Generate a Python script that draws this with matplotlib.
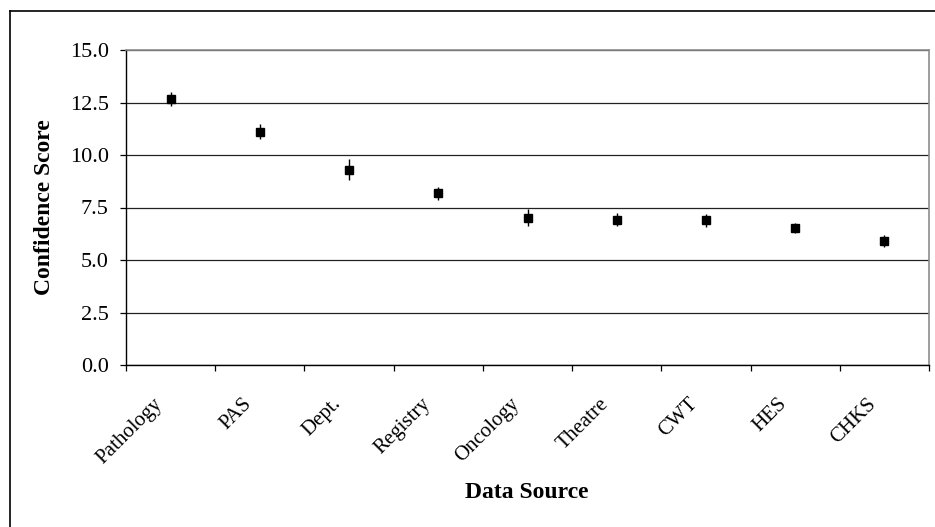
import matplotlib
matplotlib.use("Agg")
import matplotlib.pyplot as plt
from matplotlib.lines import Line2D
import matplotlib.transforms as mtransforms
import numpy as np

categories = ["Pathology", "PAS", "Dept.", "Registry", "Oncology", "Theatre", "CWT", "HES", "CHKS"]
scores = [12.67, 11.11, 9.29, 8.17, 7.02, 6.92, 6.89, 6.51, 5.92]
errors = [0.32, 0.36, 0.50, 0.32, 0.40, 0.32, 0.32, 0.24, 0.28]
yticks = [0.0, 2.5, 5.0, 7.5, 10.0, 12.5, 15.0]

plt.rcParams['font.family'] = ['Liberation Serif', 'DejaVu Serif']

W, H = 935, 527
fig = plt.figure(figsize=(W / 100, H / 100), dpi=100)
fx0, fy0 = 10 / W, 1 - 11 / H
fig.lines.append(Line2D([fx0, fx0], [0, fy0], transform=fig.transFigure, color='black', linewidth=1.2))
fig.lines.append(Line2D([fx0, 1], [fy0, fy0], transform=fig.transFigure, color='black', linewidth=1.2))

left, right, top, bottom = 126, 929, 50, 365
ax = fig.add_axes([left / W, 1 - bottom / H, (right - left) / W, (bottom - top) / H])

x = np.arange(len(categories))
ax.errorbar(x, scores, yerr=errors, fmt='s', color='black', markersize=5.5,
            elinewidth=1.0, capsize=0, zorder=3)

ax.set_xlim(-0.5, len(categories) - 0.5)
ax.set_ylim(0, 15)
ax.set_yticks(yticks)
ax.set_yticklabels([f"{v:.1f}" for v in yticks], fontsize=16)
ax.yaxis.grid(True, color='#222222', linewidth=0.9)
ax.set_axisbelow(True)

# category boundaries as ticks, category names as rotated text
ax.set_xticks(np.arange(-0.5, len(categories)))
ax.set_xticklabels([])
ax.tick_params(axis='x', length=4.5, direction='out', width=0.9)
ax.tick_params(axis='y', length=4.5, direction='out', width=0.9, pad=8)

base = mtransforms.blended_transform_factory(ax.transData, ax.transAxes)
offset = mtransforms.ScaledTranslation(-11 / 100, -36 / 100, fig.dpi_scale_trans)
for i, name in zip(x, categories):
    ax.text(i, 0, name, transform=base + offset, rotation=45, ha='right', va='center',
            rotation_mode='anchor', fontsize=15, clip_on=False)

for s in ['top', 'right']:
    ax.spines[s].set_color('#8c8c8c')
    ax.spines[s].set_linewidth(1.2)
for s in ['left', 'bottom']:
    ax.spines[s].set_color('black')
    ax.spines[s].set_linewidth(1.0)

fig.text(45 / W, 1 - 207 / H, "Confidence Score", rotation=90, ha='center', va='center',
         fontsize=17, fontweight='bold')
fig.text(527 / W, 1 - 493 / H, "Data Source", ha='center', va='center',
         fontsize=17, fontweight='bold')

fig.savefig("out.png", dpi=100)
